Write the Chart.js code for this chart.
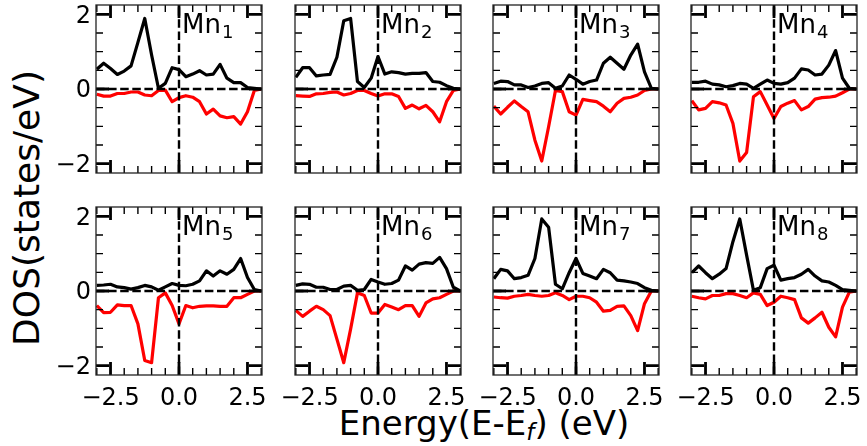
<!DOCTYPE html>
<html lang="en">
<head>
<meta charset="UTF-8">
<title>Mn DOS</title>
<script src="https://cdn.jsdelivr.net/npm/chart.js"></script>
<style>
  body { margin: 0; background: #fff; font-family: 'DejaVu Sans', sans-serif; }
  #wrap { position: relative; width: 867px; height: 446px; overflow: hidden; }
  .panel { position: absolute; }
  .ylab { position: absolute; left: 27px; top: 208px; font-size: 36px; line-height: 36px; white-space: nowrap;
          transform: translate(-50%, -50%) rotate(-90deg); }
  .xlab { position: absolute; left: 484px; top: 406px; font-size: 34px; line-height: 34px; white-space: nowrap;
          transform: translateX(-50%); }
  .xlab sub { font-size: 0.68em; vertical-align: -0.22em; line-height: 0; }
</style>
</head>
<body>
<div id="wrap">
  <div class="ylab">DOS(states/eV)</div>
  <div class="xlab">Energy(E-E<sub><i>f</i></sub>) (eV)</div>
</div>
<script>
// energy grid (eV), Fermi level at 0
const energy = [-3.0, -2.75, -2.5, -2.25, -2.0, -1.75, -1.5, -1.25, -1.0, -0.75, -0.5, -0.25, 0.0,
                0.25, 0.5, 0.75, 1.0, 1.25, 1.5, 1.75, 2.0, 2.25, 2.5, 2.75, 3.0];

// spin up (black) / spin down (red) DOS per Mn site
const up1 = [0.53, 0.69, 0.55, 0.39, 0.48, 0.62, 1.25, 1.89, 0.91, 0.02, 0.15, 0.57, 0.52, 0.33, 0.40, 0.49, 0.375, 0.40, 0.66, 0.29, 0.17, 0.17, 0.04, 0.02, 0];
const dn1 = [-0.14, -0.19, -0.19, -0.12, -0.12, -0.08, -0.08, -0.16, -0.18, -0.04, -0.03, -0.34, -0.23, -0.18, -0.22, -0.34, -0.67, -0.54, -0.72, -0.77, -0.74, -0.94, -0.61, -0.04, 0];
const up2 = [0.31, 0.57, 0.57, 0.35, 0.375, 0.39, 0.85, 1.83, 1.89, 0.2, 0.04, 0.29, 0.87, 0.40, 0.46, 0.44, 0.40, 0.42, 0.42, 0.44, 0.2, 0.18, 0.09, 0.02, 0];
const dn2 = [-0.18, -0.19, -0.2, -0.13, -0.12, -0.09, -0.08, -0.16, -0.12, -0.04, -0.04, -0.12, -0.19, -0.13, -0.13, -0.2, -0.52, -0.43, -0.53, -0.44, -0.61, -0.88, -0.34, -0.04, 0];
const up3 = [0.15, 0.21, 0.2, 0.11, 0.11, 0.04, 0.08, 0.15, 0.17, 0.02, 0.08, 0.375, 0.26, 0.13, 0.2, 0.24, 0.69, 0.85, 0.69, 0.53, 0.91, 1.2, 0.46, 0.02, 0];
const dn3 = [-0.46, -0.67, -0.49, -0.32, -0.47, -0.61, -1.37, -1.93, -1.01, -0.04, -0.07, -0.61, -0.70, -0.28, -0.31, -0.34, -0.46, -0.61, -0.38, -0.25, -0.22, -0.16, -0.04, 0, 0];
const up4 = [0.18, 0.18, 0.21, 0.13, 0.11, 0.06, 0.09, 0.15, 0.13, 0.02, 0.13, 0.24, 0.15, 0.13, 0.17, 0.29, 0.54, 0.51, 0.375, 0.4, 0.64, 1.03, 0.29, 0.02, 0];
const dn4 = [-0.31, -0.56, -0.52, -0.34, -0.37, -0.43, -0.92, -1.93, -1.70, -0.21, -0.07, -0.43, -0.79, -0.47, -0.38, -0.31, -0.56, -0.47, -0.27, -0.23, -0.22, -0.19, -0.1, 0, 0];
const up5 = [0.15, 0.16, 0.18, 0.11, 0.09, 0.05, 0.09, 0.15, 0.11, 0.02, 0.11, 0.2, 0.15, 0.14, 0.18, 0.27, 0.54, 0.4, 0.54, 0.45, 0.58, 0.87, 0.36, 0.04, 0];
const dn5 = [-0.39, -0.58, -0.57, -0.37, -0.39, -0.39, -0.88, -1.86, -1.92, -0.18, -0.05, -0.39, -0.88, -0.39, -0.45, -0.41, -0.4, -0.4, -0.41, -0.41, -0.18, -0.18, -0.09, 0, 0];
const up6 = [0.15, 0.19, 0.18, 0.1, 0.1, 0.04, 0.04, 0.13, 0.15, 0.02, 0.04, 0.31, 0.24, 0.18, 0.2, 0.29, 0.67, 0.56, 0.72, 0.76, 0.74, 0.9, 0.6, 0.1, 0];
const dn6 = [-0.52, -0.68, -0.54, -0.41, -0.5, -0.66, -1.29, -1.92, -1.02, -0.05, -0.12, -0.59, -0.59, -0.36, -0.43, -0.5, -0.39, -0.39, -0.68, -0.32, -0.21, -0.18, -0.09, 0, 0];
const up7 = [0.33, 0.58, 0.54, 0.33, 0.36, 0.42, 0.87, 1.93, 1.71, 0.18, 0.06, 0.49, 0.87, 0.47, 0.4, 0.33, 0.58, 0.49, 0.29, 0.27, 0.24, 0.2, 0.09, 0.02, 0];
const dn7 = [-0.16, -0.18, -0.19, -0.14, -0.12, -0.09, -0.12, -0.14, -0.12, -0.05, -0.12, -0.23, -0.14, -0.14, -0.18, -0.3, -0.54, -0.52, -0.41, -0.4, -0.66, -1.06, -0.34, 0, 0];
const up8 = [0.49, 0.67, 0.49, 0.33, 0.45, 0.6, 1.32, 1.93, 0.96, 0.02, 0.09, 0.6, 0.69, 0.29, 0.33, 0.36, 0.45, 0.58, 0.4, 0.27, 0.24, 0.15, 0.04, 0.02, 0];
const dn8 = [-0.14, -0.18, -0.21, -0.12, -0.12, -0.07, -0.07, -0.12, -0.18, -0.05, -0.09, -0.39, -0.3, -0.14, -0.18, -0.23, -0.72, -0.86, -0.72, -0.57, -0.97, -1.23, -0.43, -0.03, 0];

const siteLabels = ['1', '2', '3', '4', '5', '6', '7', '8'];
const xTicks = [-2.5, 0, 2.5];
const xMinor = [-3, -2, -1.5, -1, -0.5, 0.5, 1, 1.5, 2, 3];
const yTicks = [-2, 0, 2];
const yMinor = [-1.5, -1, -0.5, 0.5, 1, 1.5];
const xRange = [-3.03, 3.03];
const yRange = [-2.25, 2.25];

const spinUp = [up1, up2, up3, up4, up5, up6, up7, up8];
const spinDn = [dn1, dn2, dn3, dn4, dn5, dn6, dn7, dn8];

// layout: plot-area corners for the 2x4 grid
const colLeft = [96, 295, 493, 691];
const rowTop = [5, 207];
const PW = 166, PH = 168, PADL = 50, PADT = 24, PADR = 16, PADB = 40;

const fmt = (v, d) => (v < 0 ? '\u2212' : '') + Math.abs(v).toFixed(d);

// dashed zero lines, inward ticks on all sides, frame and the Mn label
const decor = {
    id: 'decor',
    afterDatasetsDraw(chart, args, opts) {
        const { ctx, chartArea: a, scales: { x, y } } = chart;
        const x0 = x.getPixelForValue(0), y0 = y.getPixelForValue(0);
        ctx.save();
        ctx.strokeStyle = '#000';
        ctx.lineWidth = 2.4;
        ctx.setLineDash([8.5, 3.6]);
        ctx.beginPath(); ctx.moveTo(x0, a.bottom); ctx.lineTo(x0, a.top); ctx.stroke();
        ctx.beginPath(); ctx.moveTo(a.left, y0); ctx.lineTo(a.right, y0); ctx.stroke();
        ctx.setLineDash([]);

        const tick = (vals, len, w) => {
            ctx.lineWidth = w;
            ctx.beginPath();
            vals.x.forEach(v => {
                const p = x.getPixelForValue(v);
                ctx.moveTo(p, a.bottom); ctx.lineTo(p, a.bottom - len);
                ctx.moveTo(p, a.top); ctx.lineTo(p, a.top + len);
            });
            vals.y.forEach(v => {
                const p = y.getPixelForValue(v);
                ctx.moveTo(a.left, p); ctx.lineTo(a.left + len, p);
                ctx.moveTo(a.right, p); ctx.lineTo(a.right - len, p);
            });
            ctx.stroke();
        };
        tick({ x: xTicks, y: yTicks }, 13, 2.8);
        tick({ x: xMinor, y: yMinor }, 7, 1.4);

        ctx.strokeStyle = '#222';
        ctx.lineWidth = 1.3;
        ctx.strokeRect(a.left, a.top, a.right - a.left, a.bottom - a.top);

        ctx.fillStyle = '#000';
        ctx.textBaseline = 'alphabetic';
        ctx.font = '26px "DejaVu Sans"';
        ctx.fillText('Mn', x0 + 3, a.top + 28);
        const w = ctx.measureText('Mn').width;
        ctx.font = '18px "DejaVu Sans"';
        ctx.fillText(opts.sub, x0 + 3 + w + 1, a.top + 33);
        ctx.restore();
    }
};

const wrap = document.getElementById('wrap');

spinUp.forEach((up, i) => {
    const col = i % 4, row = Math.floor(i / 4);
    const box = document.createElement('div');
    box.className = 'panel';
    box.style.left = (colLeft[col] - PADL) + 'px';
    box.style.top = (rowTop[row] - PADT) + 'px';
    const canvas = document.createElement('canvas');
    canvas.width = PADL + PW + PADR;
    canvas.height = PADT + PH + PADB;
    box.appendChild(canvas);
    wrap.appendChild(box);

    const tickFont = { family: 'DejaVu Sans', size: 24 };
    new Chart(canvas, {
        type: 'line',
        data: {
            datasets: [
                { data: energy.map((e, k) => ({ x: e, y: up[k] })), borderColor: '#000000', borderWidth: 3.2 },
                { data: energy.map((e, k) => ({ x: e, y: spinDn[i][k] })), borderColor: '#ff0000', borderWidth: 3.2 }
            ]
        },
        options: {
            responsive: false,
            animation: false,
            devicePixelRatio: 1,
            layout: { padding: { top: PADT, right: PADR, left: 0, bottom: 0 } },
            elements: {
                point: { radius: 0 },
                line: { tension: 0, borderJoinStyle: 'round', borderCapStyle: 'butt' }
            },
            plugins: {
                legend: { display: false },
                tooltip: { enabled: false },
                decor: { sub: siteLabels[i] }
            },
            scales: {
                x: {
                    type: 'linear',
                    min: xRange[0], max: xRange[1],
                    grid: { display: false, drawTicks: false },
                    border: { display: false },
                    afterBuildTicks: s => { s.ticks = xTicks.map(v => ({ value: v })); },
                    afterFit: s => { s.height = PADB; },
                    ticks: {
                        display: row === 1, padding: 9, color: '#000', font: tickFont,
                        maxRotation: 0, autoSkip: false, callback: v => fmt(v, 1)
                    }
                },
                y: {
                    min: yRange[0], max: yRange[1],
                    grid: { display: false, drawTicks: false },
                    border: { display: false },
                    afterBuildTicks: s => { s.ticks = yTicks.map(v => ({ value: v })); },
                    afterFit: s => { s.width = PADL; },
                    ticks: {
                        display: col === 0, padding: 5, labelOffset: 2, color: '#000', font: tickFont,
                        callback: v => fmt(v, 0)
                    }
                }
            }
        },
        plugins: [decor]
    });
});
</script>
</body>
</html>
